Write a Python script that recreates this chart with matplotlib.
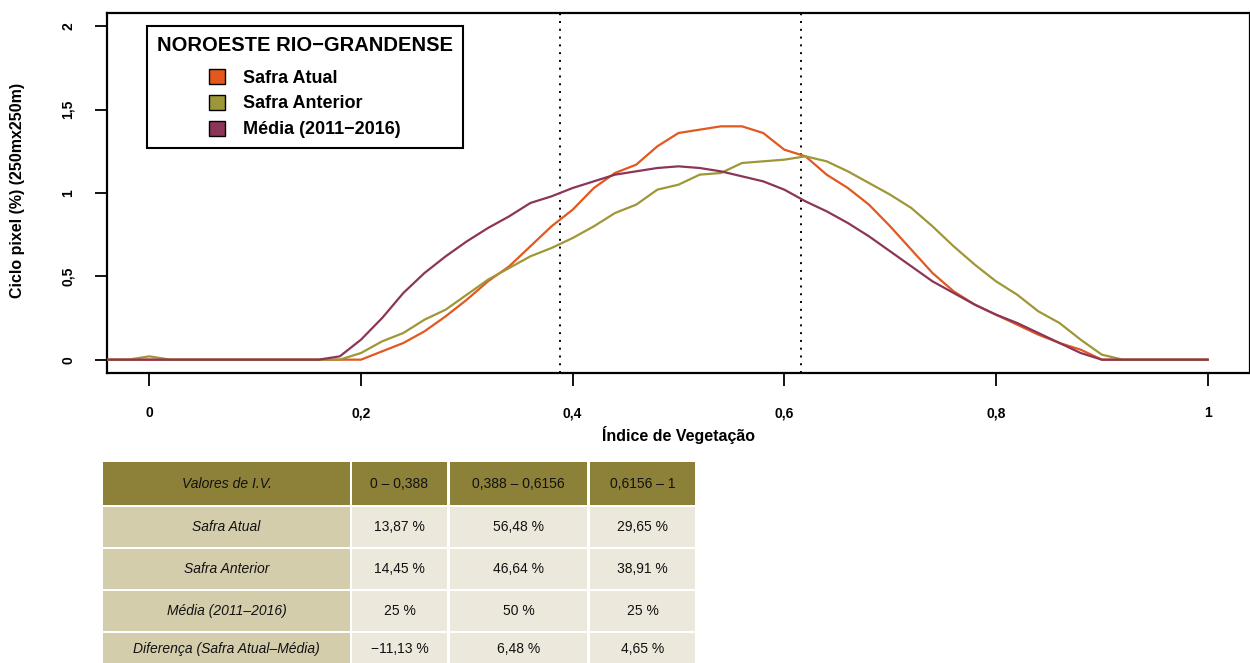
import numpy as np
import matplotlib
matplotlib.use("Agg")
import matplotlib.pyplot as plt
from matplotlib.patches import Patch, Rectangle

plt.rcParams['font.family'] = ['Liberation Sans', 'DejaVu Sans']

# vegetation index grid (step 0.02) and pixel-cycle curves
iv = np.round(np.arange(-0.04, 1.0001, 0.02), 2)

safra_atual = [
    0, 0, 0, 0, 0, 0, 0, 0, 0, 0, 0, 0,
    0.00, 0.05, 0.10, 0.17, 0.26, 0.36, 0.47, 0.56, 0.68, 0.80,
    0.90, 1.03, 1.12, 1.17, 1.28, 1.36, 1.38, 1.40, 1.40, 1.36,
    1.26, 1.22, 1.11, 1.03, 0.93, 0.80, 0.66, 0.52, 0.41, 0.33,
    0.27, 0.21, 0.15, 0.10, 0.06, 0.00, 0, 0, 0, 0, 0,
]
safra_anterior = [
    0, 0, 0.02, 0, 0, 0, 0, 0, 0, 0, 0, 0,
    0.04, 0.11, 0.16, 0.24, 0.30, 0.39, 0.48, 0.55, 0.62, 0.67,
    0.73, 0.80, 0.88, 0.93, 1.02, 1.05, 1.11, 1.12, 1.18, 1.19,
    1.20, 1.22, 1.19, 1.13, 1.06, 0.99, 0.91, 0.80, 0.68, 0.57,
    0.47, 0.39, 0.29, 0.22, 0.12, 0.03, 0.00, 0, 0, 0, 0,
]
media = [
    0, 0, 0, 0, 0, 0, 0, 0, 0, 0, 0, 0.02,
    0.12, 0.25, 0.40, 0.52, 0.62, 0.71, 0.79, 0.86, 0.94, 0.98,
    1.03, 1.07, 1.11, 1.13, 1.15, 1.16, 1.15, 1.13, 1.10, 1.07,
    1.02, 0.95, 0.89, 0.82, 0.74, 0.65, 0.56, 0.47, 0.40, 0.33,
    0.27, 0.22, 0.16, 0.10, 0.04, 0.00, 0, 0, 0, 0, 0,
]

limites = [0.388, 0.6156]

# class shares (%) per vegetation-index interval
intervalos = ["0 – 0,388", "0,388 – 0,6156", "0,6156 – 1"]
pct_atual = [13.87, 56.48, 29.65]
pct_anterior = [14.45, 46.64, 38.91]
pct_media = [25, 50, 25]

cor_atual = "#E2581F"
cor_anterior = "#9E9738"
cor_media = "#8B3558"

W, H = 1250, 663
fig = plt.figure(figsize=(W / 100, H / 100), dpi=100)
ax = fig.add_axes([107 / W, 1 - 373 / H, 1.0 - 107 / W, (373 - 13) / H])

ax.plot(iv, safra_atual, color=cor_atual, lw=1.6, zorder=3)
ax.plot(iv, safra_anterior, color=cor_anterior, lw=1.6, zorder=3)
ax.plot(iv, media, color=cor_media, lw=1.6, zorder=4)
for v in limites:
    ax.axvline(v, color="black", ls=(0, (1, 3)), lw=1.4, zorder=2)

ax.set_xlim(-0.04, 1.04)
ax.set_ylim(-0.08, 2.08)
ax.set_xticks([0, 0.2, 0.4, 0.6, 0.8, 1])
ax.set_xticklabels(["0", "0,2", "0,4", "0,6", "0,8", "1"],
                   fontsize=10, fontweight="bold")
ax.set_yticks([0, 0.5, 1, 1.5, 2])
ax.set_yticklabels(["0", "0,5", "1", "1,5", "2"], fontsize=10,
                   fontweight="bold", rotation=90, va="center")
ax.tick_params(axis="both", direction="out", length=9, width=1.3)
ax.tick_params(axis="x", pad=15)
ax.tick_params(axis="y", pad=14)
for s in ax.spines.values():
    s.set_linewidth(1.6)

ax.set_xlabel("Índice de Vegetação", fontsize=11.5, fontweight="bold",
              labelpad=4)
fig.text(18 / W, 1 - 190 / H, "Ciclo pixel (%) (250mx250m)", rotation=90,
         fontsize=11.5, fontweight="bold", ha="center", va="center")

handles = [Patch(facecolor=c, edgecolor="black", lw=1.0)
           for c in (cor_atual, cor_anterior, cor_media)]
leg = ax.legend(handles, ["Safra Atual", "Safra Anterior",
                          "Média (2011−2016)"],
                title="NOROESTE RIO−GRANDENSE", loc="upper left",
                bbox_to_anchor=((147 - 107) / (W - 107), (373 - 26) / 360),
                borderaxespad=0,
                prop={"size": 13, "weight": "bold"},
                title_fontproperties={"size": 14.5, "weight": "bold"},
                fancybox=False, edgecolor="black", framealpha=1,
                handlelength=0.9, handleheight=0.9, handletextpad=1.0,
                labelspacing=0.45, borderpad=0.55)
leg.get_frame().set_linewidth(1.5)
leg._legend_box.sep = 10

# summary table under the chart
col_x = [(103, 350), (352, 447), (450, 587), (590, 695)]
row_y = [(462, 505), (507, 547), (549, 589), (591, 631), (633, 673)]
cor_cab = "#8D8139"
cor_rot = "#D4CDAC"
cor_cel = "#ECE9DC"

def fmt(v):
    s = f"{v:.2f}".rstrip("0").rstrip(".").replace(".", ",")
    return s.replace("-", "−") + " %"

diferenca = [round(a - m, 2) for a, m in zip(pct_atual, pct_media)]
linhas = [
    ["Valores de I.V."] + intervalos,
    ["Safra Atual"] + [fmt(v) for v in pct_atual],
    ["Safra Anterior"] + [fmt(v) for v in pct_anterior],
    ["Média (2011–2016)"] + [fmt(v) for v in pct_media],
    ["Diferença (Safra Atual–Média)"] + [fmt(v) for v in diferenca],
]

for i, (y0, y1) in enumerate(row_y):
    for j, (x0, x1) in enumerate(col_x):
        if i == 0:
            fc = cor_cab
        elif j == 0:
            fc = cor_rot
        else:
            fc = cor_cel
        fig.add_artist(Rectangle((x0 / W, 1 - y1 / H), (x1 - x0) / W,
                                 (y1 - y0) / H, facecolor=fc,
                                 edgecolor="none",
                                 transform=fig.transFigure))
        yc = (y0 + y1) / 2 if i < 4 else 649
        fig.text((x0 + x1) / 2 / W, 1 - yc / H, linhas[i][j],
                 ha="center", va="center", fontsize=10,
                 style="italic" if j == 0 else "normal", color="#111111")

fig.savefig("out.png", dpi=100)
